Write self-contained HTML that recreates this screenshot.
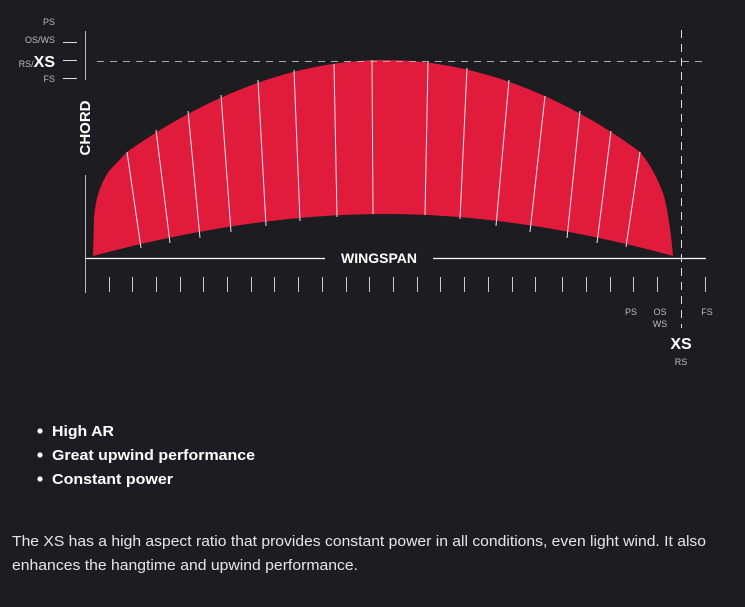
<!DOCTYPE html>
<html><head><meta charset="utf-8"><style>
html,body{margin:0;padding:0;background:#1d1c21;width:745px;height:607px;overflow:hidden}
svg{display:block}
</style></head><body>
<svg width="745" height="607" viewBox="0 0 745 607" xmlns="http://www.w3.org/2000/svg" font-family="Liberation Sans, sans-serif">
<rect width="745" height="607" fill="#1d1c21"/>
<!-- kite -->
<path d="M93,256 L94,218 Q96,190 109,171 L127,152 C200,100 290,60 385,60 C480,60 570,100 640,152 Q655,170 664,196 Q670,220 673,256 Q520,214 385,214 Q250,214 93,256 Z" fill="#e01b3c"/>
<g stroke="#ffffff" stroke-width="1" opacity="0.9">
<line x1="127" y1="152" x2="141" y2="248"/>
<line x1="156" y1="130" x2="170" y2="243"/>
<line x1="188" y1="111" x2="200" y2="238"/>
<line x1="221" y1="95" x2="231" y2="232"/>
<line x1="258" y1="80" x2="266" y2="226"/>
<line x1="294" y1="70" x2="300" y2="221"/>
<line x1="334" y1="64" x2="337" y2="217"/>
<line x1="372" y1="60" x2="373" y2="214"/>
<line x1="428" y1="62" x2="425" y2="215"/>
<line x1="467" y1="68" x2="460" y2="219"/>
<line x1="509" y1="80" x2="496" y2="226"/>
<line x1="545" y1="96" x2="530" y2="232"/>
<line x1="580" y1="111" x2="567" y2="238"/>
<line x1="611" y1="131" x2="597" y2="243"/>
<line x1="640" y1="152" x2="626" y2="247"/>
</g>
<!-- axes -->
<line x1="85.5" y1="31" x2="85.5" y2="80" stroke="#bbb" stroke-width="1"/>
<line x1="85.5" y1="175" x2="85.5" y2="293" stroke="#bbb" stroke-width="1"/>
<line x1="85" y1="258.5" x2="325" y2="258.5" stroke="#fff" stroke-width="1.2"/>
<line x1="433" y1="258.5" x2="706" y2="258.5" stroke="#fff" stroke-width="1.2"/>
<text x="379" y="263" fill="#fff" font-size="14" font-weight="bold" text-anchor="middle">WINGSPAN</text>
<line x1="97" y1="61.5" x2="706" y2="61.5" stroke="#aaa" stroke-width="1" stroke-dasharray="7,6"/>
<line x1="681.5" y1="30" x2="681.5" y2="328" stroke="#ddd" stroke-width="1" stroke-dasharray="8,6"/>
<g stroke="#ccc" stroke-width="1">
<line x1="109.5" y1="277" x2="109.5" y2="292"/><line x1="132.5" y1="277" x2="132.5" y2="292"/>
<line x1="156.5" y1="277" x2="156.5" y2="292"/><line x1="180.5" y1="277" x2="180.5" y2="292"/>
<line x1="203.5" y1="277" x2="203.5" y2="292"/><line x1="227.5" y1="277" x2="227.5" y2="292"/>
<line x1="251.5" y1="277" x2="251.5" y2="292"/><line x1="274.5" y1="277" x2="274.5" y2="292"/>
<line x1="298.5" y1="277" x2="298.5" y2="292"/><line x1="322.5" y1="277" x2="322.5" y2="292"/>
<line x1="346.5" y1="277" x2="346.5" y2="292"/><line x1="369.5" y1="277" x2="369.5" y2="292"/>
<line x1="393.5" y1="277" x2="393.5" y2="292"/><line x1="417.5" y1="277" x2="417.5" y2="292"/>
<line x1="440.5" y1="277" x2="440.5" y2="292"/><line x1="464.5" y1="277" x2="464.5" y2="292"/>
<line x1="488.5" y1="277" x2="488.5" y2="292"/><line x1="512.5" y1="277" x2="512.5" y2="292"/>
<line x1="535.5" y1="277" x2="535.5" y2="292"/><line x1="562.5" y1="277" x2="562.5" y2="292"/>
<line x1="586.5" y1="277" x2="586.5" y2="292"/><line x1="610.5" y1="277" x2="610.5" y2="292"/>
<line x1="633.5" y1="277" x2="633.5" y2="292"/><line x1="657.5" y1="277" x2="657.5" y2="292"/>
<line x1="705.5" y1="277" x2="705.5" y2="292"/>
</g>
<!-- y labels -->
<g fill="#bbb" font-size="9" text-anchor="end">
<text x="55" y="25">PS</text>
<text x="55" y="43">OS/WS</text>
<text x="55" y="82">FS</text>
</g>
<text x="55" y="67" text-anchor="end"><tspan fill="#bbb" font-size="9">RS/</tspan><tspan fill="#fff" font-size="16" font-weight="bold">XS</tspan></text>
<g stroke="#ddd" stroke-width="1">
<line x1="63" y1="42.5" x2="77" y2="42.5"/><line x1="63" y1="60.5" x2="77" y2="60.5"/><line x1="63" y1="78.5" x2="77" y2="78.5"/>
</g>
<text transform="translate(90,128) rotate(-90)" fill="#fff" font-size="15" font-weight="bold" text-anchor="middle">CHORD</text>
<!-- x labels -->
<g fill="#bbb" font-size="9" text-anchor="middle">
<text x="631" y="315">PS</text>
<text x="660" y="315">OS</text>
<text x="660" y="327">WS</text>
<text x="707" y="315">FS</text>
<text x="681" y="365">RS</text>
</g>
<text x="681" y="349" fill="#fff" font-size="16" font-weight="bold" text-anchor="middle">XS</text>
<!-- bullets -->
<g fill="#fff" font-size="15" font-weight="bold">
<circle cx="40" cy="431" r="2.6"/><text x="52" y="436" textLength="62" lengthAdjust="spacingAndGlyphs">High AR</text>
<circle cx="40" cy="455" r="2.6"/><text x="52" y="460" textLength="203" lengthAdjust="spacingAndGlyphs">Great upwind performance</text>
<circle cx="40" cy="479" r="2.6"/><text x="52" y="484" textLength="121" lengthAdjust="spacingAndGlyphs">Constant power</text>
</g>
<g fill="#e6e6e6" font-size="15">
<text x="12" y="546" textLength="694" lengthAdjust="spacingAndGlyphs">The XS has a high aspect ratio that provides constant power in all conditions, even light wind. It also</text>
<text x="12" y="570" textLength="346" lengthAdjust="spacingAndGlyphs">enhances the hangtime and upwind performance.</text>
</g>
</svg>
</body></html>
